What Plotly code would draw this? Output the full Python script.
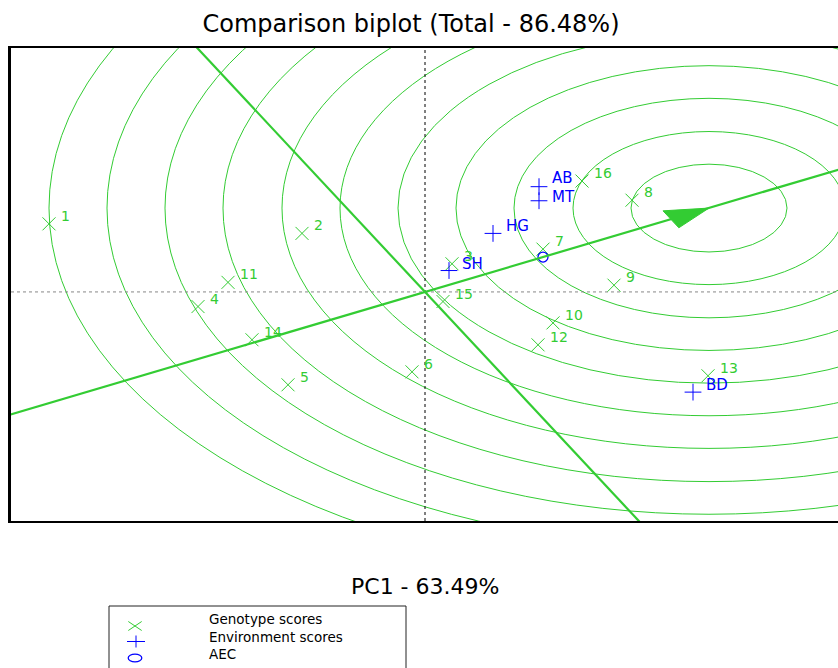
import numpy as np
import plotly.graph_objects as go

# ---------------- data ----------------
geno_labels = ['1', '2', '3', '4', '5', '6', '7', '8', '9', '10', '11', '12', '13', '14', '15', '16']
geno_pc1 = [-3.76, -1.23, 0.27, -2.27, -1.37, -0.13, 1.18, 2.07, 1.89, 1.28, -1.97, 1.13, 2.83, -1.73, 0.18, 1.57]
geno_pc2 = [1.21, 1.04, 0.50, -0.26, -1.65, -1.42, 0.76, 1.63, 0.12, -0.55, 0.17, -0.94, -1.49, -0.85, -0.17, 1.97]

env_labels = ['AB', 'MT', 'HG', 'SH', 'BD']
env_pc1 = [1.14, 1.14, 0.68, 0.24, 2.68]
env_pc2 = [1.87, 1.62, 1.04, 0.38, -1.78]

aec_pc1 = [1.18]
aec_pc2 = [0.62]

ideal_pc1 = 2.84
ideal_pc2 = 1.49
circle_radii = [0.78, 1.36, 1.95, 2.53, 3.11, 3.69, 4.27, 4.86, 5.44, 6.02, 6.60]

x_range = [-4.14, 4.13]
y_range = [-4.07, 4.334]

title_text = 'Comparison biplot (Total - 86.48%)'
xlabel_text = 'PC1 - 63.49%'
legend_names = ['Genotype scores', 'Environment scores', 'AEC']

# ---------------- style / layout ----------------
GREEN = '#33cc33'
BLUE = '#0000ff'
FONT = 'DejaVu Sans'
W, H = 838, 668
ML, MR, MT, MB = 11, 0, 48, 147
PW, PH = W - ML - MR, H - MT - MB


def px_x(px):
    return (px - ML) / PW


def px_y(py):
    return (H - MB - py) / PH


fig = go.Figure()

# AEC direction & perpendicular (data space)
u = np.array([aec_pc1[0], aec_pc2[0]])
u = u / np.linalg.norm(u)
n = np.array([u[1], -u[0]])
far = 50.0

shapes = []
for r in circle_radii:
    shapes.append(dict(type='circle', xref='x', yref='y',
                       x0=ideal_pc1 - r, x1=ideal_pc1 + r,
                       y0=ideal_pc2 - r, y1=ideal_pc2 + r,
                       line=dict(color=GREEN, width=1), layer='below'))
shapes.append(dict(type='line', xref='x', yref='y', x0=0, x1=0, y0=y_range[0], y1=y_range[1],
                   line=dict(color='black', width=1, dash='dot'), layer='below'))
shapes.append(dict(type='line', xref='x', yref='y', x0=x_range[0], x1=x_range[1], y0=0, y1=0,
                   line=dict(color='#888888', width=1, dash='dot'), layer='below'))
shapes.append(dict(type='line', xref='x', yref='y', x0=-far * u[0], y0=-far * u[1], x1=far * u[0], y1=far * u[1],
                   line=dict(color=GREEN, width=2.2)))
shapes.append(dict(type='line', xref='x', yref='y', x0=-far * n[0], y0=-far * n[1], x1=far * n[0], y1=far * n[1],
                   line=dict(color=GREEN, width=2.2)))
tip = np.array([ideal_pc1, ideal_pc2])
base = tip - 0.43 * u
p1 = base + 0.17 * n
p2 = base - 0.17 * n
shapes.append(dict(type='path', xref='x', yref='y',
                   path=f'M {tip[0]},{tip[1]} L {p1[0]},{p1[1]} L {p2[0]},{p2[1]} Z',
                   fillcolor=GREEN, line=dict(color=GREEN, width=1)))

fig.add_trace(go.Scatter(x=geno_pc1, y=geno_pc2, mode='markers', name=legend_names[0],
                         marker=dict(symbol='x-thin', size=13, color=GREEN,
                                     line=dict(color=GREEN, width=1)),
                         text=geno_labels, hoverinfo='text', showlegend=False))
fig.add_trace(go.Scatter(x=env_pc1, y=env_pc2, mode='markers', name=legend_names[1],
                         marker=dict(symbol='cross-thin', size=12, color=BLUE,
                                     line=dict(color=BLUE, width=1)),
                         text=env_labels, hoverinfo='text', showlegend=False))
fig.add_trace(go.Scatter(x=aec_pc1, y=aec_pc2, mode='markers', name=legend_names[2],
                         marker=dict(symbol='circle-open', size=10, color=BLUE,
                                     line=dict(color=BLUE, width=1.3)),
                         hoverinfo='name', showlegend=False))

annotations = []
for lab, x, y in zip(geno_labels, geno_pc1, geno_pc2):
    annotations.append(dict(x=x, y=y, xref='x', yref='y', text=lab, showarrow=False,
                            xanchor='left', yanchor='middle', xshift=10, yshift=8,
                            font=dict(family=FONT, size=14, color=GREEN)))
env_yshift = {'AB': 9, 'MT': 4}
for lab, x, y in zip(env_labels, env_pc1, env_pc2):
    annotations.append(dict(x=x, y=y, xref='x', yref='y', text=lab, showarrow=False,
                            xanchor='left', yanchor='middle', xshift=11, yshift=env_yshift.get(lab, 7),
                            font=dict(family=FONT, size=15, color=BLUE)))
annotations.append(dict(x=0.5, y=px_y(586), xref='paper', yref='paper', text=xlabel_text,
                        showarrow=False, xanchor='center', yanchor='middle',
                        font=dict(family=FONT, size=22, color='black')))

# ---- legend drawn by hand (box, sample glyphs, labels) ----
shapes.append(dict(type='rect', xref='paper', yref='paper',
                   x0=px_x(109), x1=px_x(406), y0=px_y(606), y1=px_y(720),
                   line=dict(color='#222222', width=1), fillcolor='rgba(0,0,0,0)'))
sym_x = px_x(135)
gy = px_y(626)
for sgn in (1, -1):
    shapes.append(dict(type='line', xref='paper', yref='paper', xsizemode='pixel', ysizemode='pixel',
                       xanchor=sym_x, yanchor=gy, x0=-6.7, x1=6.7, y0=-4.5 * sgn, y1=4.5 * sgn,
                       line=dict(color=GREEN, width=1)))
ey = px_y(641.5)
shapes.append(dict(type='line', xref='paper', yref='paper', xsizemode='pixel', ysizemode='pixel',
                   xanchor=px_x(136), yanchor=ey, x0=-9, x1=9, y0=0, y1=0,
                   line=dict(color=BLUE, width=1)))
shapes.append(dict(type='line', xref='paper', yref='paper', xsizemode='pixel', ysizemode='pixel',
                   xanchor=px_x(136), yanchor=ey, x0=0, x1=0, y0=-6, y1=6,
                   line=dict(color=BLUE, width=1)))
ay = px_y(658)
shapes.append(dict(type='circle', xref='paper', yref='paper', xsizemode='pixel', ysizemode='pixel',
                   xanchor=sym_x, yanchor=ay, x0=-6.8, x1=6.8, y0=-3.9, y1=3.9,
                   line=dict(color=BLUE, width=1.3)))
annotations.append(dict(x=px_x(207), y=px_y(609), xref='paper', yref='paper',
                        text='<br>'.join(legend_names), align='left',
                        showarrow=False, xanchor='left', yanchor='top',
                        font=dict(family=FONT, size=13.5, color='black')))

fig.update_layout(
    width=W, height=H,
    margin=dict(l=ML, r=MR, t=MT, b=MB),
    paper_bgcolor='white', plot_bgcolor='white',
    title=dict(text=title_text, x=411 / W, xanchor='center', xref='container',
               y=1 - 24 / H, yanchor='middle', yref='container',
               font=dict(family=FONT, size=24, color='black')),
    shapes=shapes,
    annotations=annotations,
    showlegend=False,
    xaxis=dict(range=x_range, showgrid=False, zeroline=False, showticklabels=False, ticks='',
               showline=True, linecolor='black', linewidth=2, mirror=True, fixedrange=True),
    yaxis=dict(range=y_range, showgrid=False, zeroline=False, showticklabels=False, ticks='',
               showline=True, linecolor='black', linewidth=3, mirror=False, fixedrange=True),
)

fig.write_html('out.html', config={'displayModeBar': False},
               post_script="document.body.style.margin='0px';document.body.style.overflow='hidden';")
